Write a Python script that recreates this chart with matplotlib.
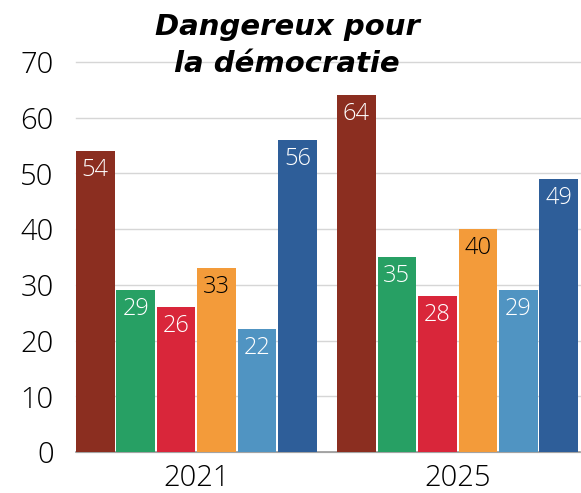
import matplotlib
matplotlib.use("Agg")
import matplotlib.pyplot as plt
import numpy as np

years = ["2021", "2025"]
series_colors = ["#8B2E20", "#27A064", "#D9263A", "#F39B3A", "#5094C2", "#2E5E99"]
values_2021 = [54, 29, 26, 33, 22, 56]
values_2025 = [64, 35, 28, 40, 29, 49]
label_colors = ["white", "white", "white", "black", "white", "white"]
yticks = [0, 10, 20, 30, 40, 50, 60, 70]
title_line1 = "Dangereux pour"
title_line2 = "la démocratie"

num_font = dict(family=["Open Sans", "DejaVu Sans"], weight="light")

W, H = 581, 493
fig = plt.figure(figsize=(W / 100, H / 100), dpi=100)
ax = fig.add_axes([76 / W, 1 - 452 / H, (580 - 76) / W, (452 - 62) / H])

step = 0.155
width = 0.1475
x = np.arange(len(years))
data = np.array([values_2021, values_2025])
for i in range(6):
    pos = x + (i - 2.5) * step
    bars = ax.bar(pos, data[:, i], width=width, color=series_colors[i], zorder=3)
    for b, v in zip(bars, data[:, i]):
        ax.annotate(str(v), (b.get_x() + b.get_width() / 2, v), xytext=(0, -5),
                    textcoords="offset points", ha="center", va="top",
                    fontsize=17, color=label_colors[i], zorder=4, **num_font)

ax.set_xlim(-0.4612, 1.469)
ax.set_ylim(0, 70)
ax.set_yticks(yticks)
ax.set_yticklabels([str(t) for t in yticks], fontsize=21, **num_font)
ax.set_xticks(x)
ax.set_xticklabels(years, fontsize=21, **num_font)
ax.tick_params(axis="y", length=0, pad=16)
ax.tick_params(axis="x", length=0, pad=8)
ax.grid(axis="y", color="#d6d6d6", linewidth=1, zorder=0)
ax.set_axisbelow(True)
for s in ["top", "right", "left"]:
    ax.spines[s].set_visible(False)
ax.spines["bottom"].set_color("#999999")
ax.spines["bottom"].set_linewidth(1.2)
for gl in ax.get_ygridlines():
    gl.set_clip_on(False)

fig.text(287 / W, 1 - 35 / H, title_line1, ha="center", va="baseline",
         fontsize=21, fontweight="bold", fontstyle="italic", zorder=10)
fig.text(287 / W, 1 - 72 / H, title_line2, ha="center", va="baseline",
         fontsize=21, fontweight="bold", fontstyle="italic", zorder=10)

fig.savefig("out.png", dpi=100)
